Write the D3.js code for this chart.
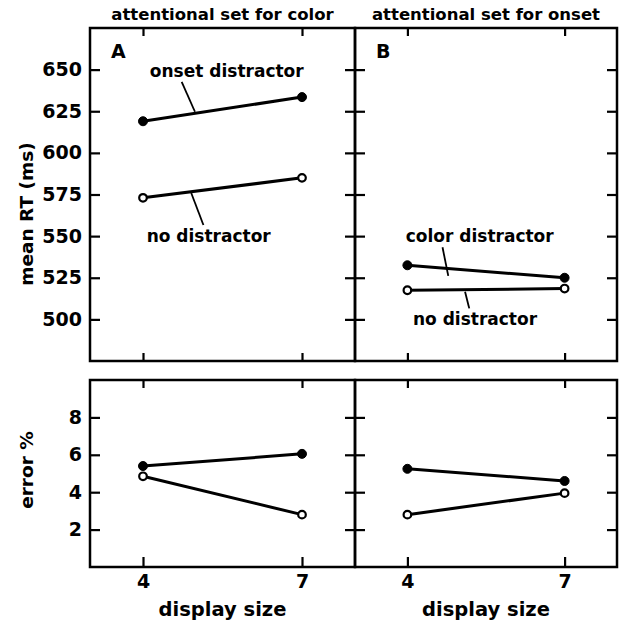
<!DOCTYPE html>
<html><head><meta charset="utf-8">
<script src="https://cdn.jsdelivr.net/npm/d3@7"></script>
<style>
html,body{margin:0;padding:0;background:#fff;}
text{font-family:"DejaVu Sans",sans-serif;font-weight:bold;fill:#000;}
</style></head>
<body><svg id="c" width="621" height="621"></svg>
<script>
// ---- data ----
const displaySizes = [4, 7];
const rtTicks = [500, 525, 550, 575, 600, 625, 650];
const errTicks = [2, 4, 6, 8];
const panelTitles = ["attentional set for color", "attentional set for onset"];
const panelLetters = ["A", "B"];
// panel A: attentional set for color
const rtColorSetOnsetDistr = [619, 633.5];
const rtColorSetNoDistr = [573, 585];
const errColorSetOnsetDistr = [5.4, 6.05];
const errColorSetNoDistr = [4.85, 2.8];
// panel B: attentional set for onset
const rtOnsetSetColorDistr = [532.5, 525];
const rtOnsetSetNoDistr = [517.5, 518.5];
const errOnsetSetColorDistr = [5.25, 4.6];
const errOnsetSetNoDistr = [2.8, 3.95];
// annotations (data coords: display size, RT)
const annA = [
  {text:"onset distractor", x:5.58, y:645.6, lx:[4.73,4.98], ly:[642.7,624.7]},
  {text:"no distractor", x:5.24, y:546.7, lx:[4.91,5.14], ly:[575.9,556.7]}
];
const annB = [
  {text:"color distractor", x:5.38, y:546.7, lx:[4.67,4.78], ly:[543.3,526.1]},
  {text:"no distractor", x:5.29, y:496.6, lx:[5.10,5.18], ly:[516.6,506.6]}
];

const svg = d3.select("#c");
const L = 90, M = 355, R = 617;
const topT = 28, topB = 361, botT = 380, botB = 567;
const xDom = [3, 8];
const xs = [d3.scaleLinear().domain(xDom).range([L, M]),
            d3.scaleLinear().domain(xDom).range([M, R])];
const yRT = d3.scaleLinear().domain([475, 675]).range([topB, topT]);
const yErr = d3.scaleLinear().domain([0, 10]).range([botB, botT]);

const panels = [
  {rt:[rtColorSetOnsetDistr, rtColorSetNoDistr], err:[errColorSetOnsetDistr, errColorSetNoDistr], ann:annA},
  {rt:[rtOnsetSetColorDistr, rtOnsetSetNoDistr], err:[errOnsetSetColorDistr, errOnsetSetNoDistr], ann:annB}
];

function styleAxis(g, labels, fs){
  g.select(".domain").remove();
  g.selectAll(".tick line").attr("stroke","#000").attr("stroke-width",2.2);
  g.selectAll(".tick text").style("font-size", labels ? (fs || "19px") : "0px");
}

panels.forEach((p, i) => {
  const x = xs[i];
  const x0 = x.range()[0], x1 = x.range()[1];
  [[yRT, rtTicks], [yErr, errTicks]].forEach(([y, ticks]) => {
    const gl = svg.append("g").attr("transform", `translate(${x0},0)`)
      .call(d3.axisLeft(y).tickValues(ticks).tickSize(-10).tickPadding(16)
        .tickFormat(i === 0 ? d3.format("d") : ""));
    styleAxis(gl, i === 0);
    if (i === 0) gl.selectAll(".tick text").attr("x", -8);
    const gr = svg.append("g").attr("transform", `translate(${x1},0)`)
      .call(d3.axisRight(y).tickValues(ticks).tickSize(-10).tickFormat(""));
    styleAxis(gr, false);
  });
  [[topT, d3.axisTop], [topB, d3.axisBottom], [botT, d3.axisTop]].forEach(([yy, ax]) => {
    const g = svg.append("g").attr("transform", `translate(0,${yy})`)
      .call(ax(x).tickValues(displaySizes).tickSize(-8).tickFormat(""));
    styleAxis(g, false);
  });
  const gb = svg.append("g").attr("transform", `translate(0,${botB})`)
    .call(d3.axisBottom(x).tickValues(displaySizes).tickSize(-10).tickFormat(d3.format("d")));
  styleAxis(gb, true);
  gb.selectAll(".tick text").attr("y", 8);

  svg.append("rect").attr("x", x0).attr("y", topT).attr("width", x1 - x0).attr("height", topB - topT)
    .attr("fill","none").attr("stroke","#000").attr("stroke-width",2.5);
  svg.append("rect").attr("x", x0).attr("y", botT).attr("width", x1 - x0).attr("height", botB - botT)
    .attr("fill","none").attr("stroke","#000").attr("stroke-width",2.5);

  svg.append("text").attr("x", (x0 + x1) / 2).attr("y", 20).attr("text-anchor","middle")
    .style("font-size","16.5px").text(panelTitles[i]);
  svg.append("text").attr("x", x0 + 21).attr("y", 58).style("font-size","19px").text(panelLetters[i]);
  svg.append("text").attr("x", (x0 + x1) / 2).attr("y", 616).attr("text-anchor","middle")
    .style("font-size","19.5px").text("display size");

  const line = (y) => d3.line().x((d, j) => x(displaySizes[j])).y(d => y(d));
  [[yRT, p.rt], [yErr, p.err]].forEach(([y, series]) => {
    series.forEach((vals, k) => {
      svg.append("path").datum(vals).attr("d", line(y)).attr("fill","none")
        .attr("stroke","#000").attr("stroke-width",3);
      svg.selectAll(null).data(vals).enter().append("circle")
        .attr("cx", (d, j) => x(displaySizes[j])).attr("cy", d => y(d))
        .attr("r", k === 0 ? 4.5 : 3.8)
        .attr("fill", k === 0 ? "#000" : "#fff")
        .attr("stroke","#000").attr("stroke-width", k === 0 ? 1 : 2.2);
    });
  });
  p.ann.forEach(a => {
    svg.append("text").attr("x", x(a.x)).attr("y", yRT(a.y)).attr("text-anchor","middle")
      .style("font-size","17px").text(a.text);
    svg.append("line").attr("x1", x(a.lx[0])).attr("y1", yRT(a.ly[0]))
      .attr("x2", x(a.lx[1])).attr("y2", yRT(a.ly[1])).attr("stroke","#000").attr("stroke-width",1.8);
  });
});

svg.append("text").attr("transform","translate(33,214) rotate(-90)").attr("text-anchor","middle")
  .style("font-size","18.5px").text("mean RT (ms)");
svg.append("text").attr("transform","translate(33,470) rotate(-90)").attr("text-anchor","middle")
  .style("font-size","18.5px").text("error %");
</script></body></html>
